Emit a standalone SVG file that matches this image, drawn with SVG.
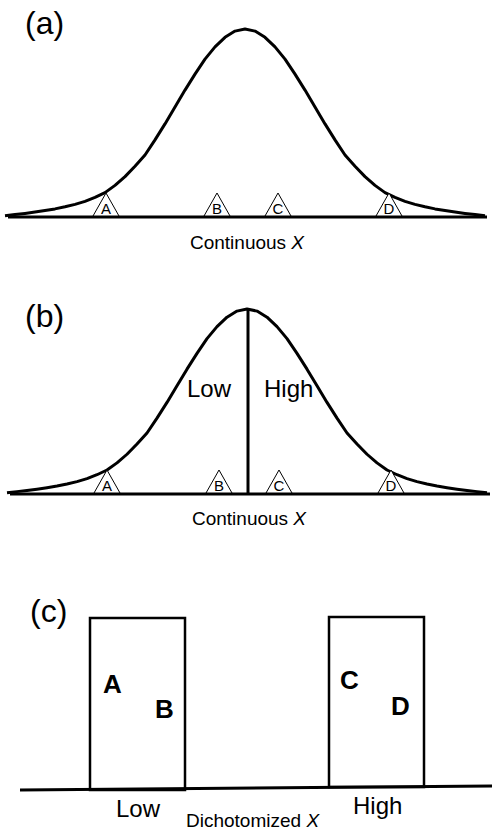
<svg xmlns="http://www.w3.org/2000/svg" width="492" height="830" viewBox="0 0 492 830">
<style>
text{font-family:"Liberation Sans",Arial,sans-serif;fill:#000}
.lbl{font-size:32px}
.ax{font-size:19px}
.tri{fill:#fff;stroke:#000;stroke-width:1}
.tl{font-size:15px;text-anchor:middle}
.curve{fill:none;stroke:#000;stroke-width:3;stroke-linejoin:round}
.base{stroke:#000;stroke-width:3}
.box{fill:none;stroke:#000;stroke-width:2.5}
.big{font-size:26px;font-weight:bold}
.cat{font-size:24px}
</style>
<defs>
<polyline id="bell" points="-240,-1.3 -230,-2.4 -220,-3.6 -210,-4.9 -200,-6.4 -190,-8.1 -180,-10.2 -170,-12.6 -160,-15.6 -150,-19.6 -140,-24.4 -130,-31.6 -120,-40.4 -110,-50.8 -100,-62 -90,-77.1 -80,-93.1 -70,-110 -60,-126.9 -50,-142.9 -40,-157.9 -30,-170.1 -20,-179.7 -10,-185.9 0,-188 10,-185.9 20,-179.7 30,-170.1 40,-157.9 50,-142.9 60,-126.9 70,-110 80,-93.1 90,-77.1 100,-62 110,-50.8 120,-40.4 130,-31.6 140,-24.4 150,-19.6 160,-15.6 170,-12.6 180,-10.2 190,-8.1 200,-6.4 210,-4.9 220,-3.6 230,-2.4 240,-1.3"/>
<polygon id="tri" points="0,-23 -13,0 13,0"/>
</defs>

<g id="panel-a">
<text class="lbl" x="25" y="34">(a)</text>
<use href="#bell" class="curve" transform="translate(245,217)"/>
<line class="base" x1="8" y1="217" x2="487" y2="217"/>
<g id="a-A"><use href="#tri" class="tri" x="106" y="216"/><text class="tl" x="106" y="214">A</text></g>
<g id="a-B"><use href="#tri" class="tri" x="217" y="216"/><text class="tl" x="217" y="214">B</text></g>
<g id="a-C"><use href="#tri" class="tri" x="278" y="216"/><text class="tl" x="278" y="214">C</text></g>
<g id="a-D"><use href="#tri" class="tri" x="389" y="216"/><text class="tl" x="389" y="214">D</text></g>
<text class="ax" x="247" y="249" text-anchor="middle">Continuous <tspan font-style="italic">X</tspan></text>
</g>

<g id="panel-b">
<text class="lbl" x="25" y="327">(b)</text>
<use href="#bell" class="curve" transform="translate(247,494) scale(1,0.984)"/>
<line class="base" x1="10" y1="494" x2="490" y2="494"/>
<line x1="248" y1="309" x2="248" y2="494" stroke="#000" stroke-width="3"/>
<text class="cat" x="187" y="397">Low</text>
<text class="cat" x="264" y="397">High</text>
<g id="b-A"><use href="#tri" class="tri" x="107" y="493"/><text class="tl" x="107" y="491">A</text></g>
<g id="b-B"><use href="#tri" class="tri" x="219" y="493"/><text class="tl" x="219" y="491">B</text></g>
<g id="b-C"><use href="#tri" class="tri" x="279" y="493"/><text class="tl" x="279" y="491">C</text></g>
<g id="b-D"><use href="#tri" class="tri" x="391" y="493"/><text class="tl" x="391" y="491">D</text></g>
<text class="ax" x="249" y="525" text-anchor="middle">Continuous <tspan font-style="italic">X</tspan></text>
</g>

<g id="panel-c">
<text class="lbl" x="30" y="622">(c)</text>
<line class="base" x1="20" y1="790" x2="492" y2="786"/>
<g id="low-box"><rect class="box" x="90" y="618" width="95" height="172"/>
<text class="big" x="103" y="693">A</text>
<text class="big" x="155" y="718">B</text></g>
<g id="high-box"><rect class="box" x="329" y="617" width="95" height="170"/>
<text class="big" x="340" y="689">C</text>
<text class="big" x="391" y="715">D</text></g>
<text class="cat" x="116" y="817">Low</text>
<text class="cat" x="353" y="814">High</text>
<text class="ax" x="186" y="827">Dichotomized <tspan font-style="italic">X</tspan></text>
</g>
</svg>
